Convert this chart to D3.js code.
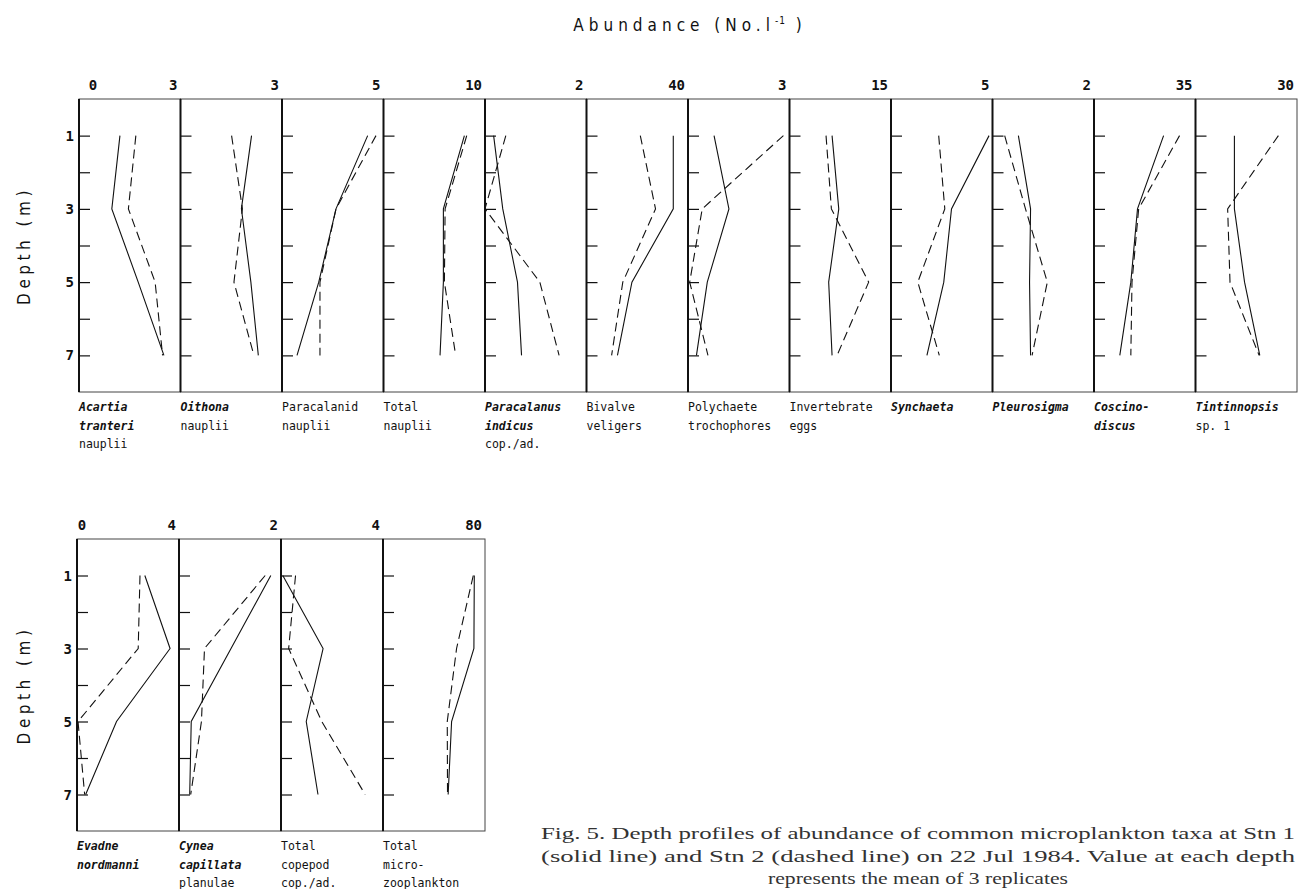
<!DOCTYPE html>
<html>
<head>
<meta charset="utf-8">
<script src="https://cdn.jsdelivr.net/npm/d3@7"></script>
<style>
  body { margin: 0; background: #fff; }
  svg { display: block; }
  .tick-num { font-family: "DejaVu Sans Mono", monospace; font-weight: bold; font-size: 14px; fill: #111; }
  .taxon { font-family: "DejaVu Sans Mono", monospace; font-size: 11.5px; fill: #111; }
  .title { font-family: "DejaVu Sans Condensed", "Liberation Sans Narrow", "DejaVu Sans", sans-serif; font-size: 17px; letter-spacing: 5px; fill: #111; }
  .ylab { font-family: "DejaVu Sans Condensed", "Liberation Sans Narrow", "DejaVu Sans", sans-serif; font-size: 17px; letter-spacing: 4.5px; fill: #111; }
  .caption { font-family: "Liberation Serif", "DejaVu Serif", serif; font-size: 17.5px; fill: #333; }
</style>
</head>
<body>
<div id="chart"></div>
<script>
// depths sampled (m)
var depths = [1, 3, 5, 7];
var depthTicks = [1, 2, 3, 4, 5, 6, 7];
var depthLabels = [1, 3, 5, 7];

// top row
var topTaxa = [
	["Acartia", "tranteri", "nauplii"],
	["Oithona", "nauplii"],
	["Paracalanid", "nauplii"],
	["Total", "nauplii"],
	["Paracalanus", "indicus", "cop./ad."],
	["Bivalve", "veligers"],
	["Polychaete", "trochophores"],
	["Invertebrate", "eggs"],
	["Synchaeta"],
	["Pleurosigma"],
	["Coscino-", "discus"],
	["Tintinnopsis", "sp. 1"]
];
var topItalic = [2, 1, 0, 0, 2, 0, 0, 0, 1, 1, 2, 1];
var topMax = [3, 3, 5, 10, 2, 40, 3, 15, 5, 2, 35, 30];
var topStn1 = [
	[1.21, 0.97, 1.75, 2.51],
	[2.10, 1.80, 2.08, 2.30],
	[4.22, 2.66, 1.81, 0.74],
	[7.97, 5.90, 5.90, 5.57],
	[0.17, 0.35, 0.64, 0.72],
	[34.2, 34.2, 17.9, 12.2],
	[0.77, 1.21, 0.57, 0.25],
	[6.29, 7.28, 5.79, 6.29],
	[4.83, 2.98, 2.60, 1.77],
	[0.51, 0.75, 0.73, 0.75],
	[24.0, 15.0, 12.7, 8.9],
	[11.5, 11.5, 14.5, 19.0]
];
var topStn2 = [
	[1.68, 1.46, 2.25, 2.47],
	[1.51, 1.83, 1.58, 2.17],
	[4.63, 2.66, 1.87, 1.87],
	[8.20, 6.07, 6.00, 7.11],
	[0.41, 0.00, 1.08, 1.46],
	[21.2, 27.2, 14.3, 9.9],
	[2.82, 0.42, 0.05, 0.59],
	[5.40, 6.19, 11.7, 7.03],
	[2.35, 2.65, 1.32, 2.38],
	[0.24, 0.65, 1.08, 0.78],
	[29.5, 15.4, 13.1, 12.7],
	[24.5, 9.5, 10.2, 18.8]
];

// bottom row
var botTaxa = [
	["Evadne", "nordmanni"],
	["Cynea", "capillata", "planulae"],
	["Total", "copepod", "cop./ad."],
	["Total", "micro-", "zooplankton"]
];
var botItalic = [2, 2, 0, 0];
var botMax = [4, 2, 4, 80];
var botStn1 = [
	[2.66, 3.65, 1.55, 0.34],
	[1.80, 1.02, 0.24, 0.21],
	[0.07, 1.65, 0.99, 1.45],
	[71.6, 71.3, 53.8, 51.1]
];
var botStn2 = [
	[2.47, 2.40, 0.04, 0.30],
	[1.69, 0.50, 0.44, 0.23],
	[0.57, 0.30, 1.60, 3.30],
	[70.8, 57.7, 50.4, 50.6]
];

var captionLines = [
	"Fig. 5. Depth profiles of abundance of common microplankton taxa at Stn 1",
	"(solid line) and Stn 2 (dashed line) on 22 Jul 1984. Value at each depth",
	"represents the mean of 3 replicates"
];

var W = 1298, H = 889;
var svg = d3.select('#chart').append('svg').attr('width', W).attr('height', H);

function drawRow(opt) {
	var y = d3.scaleLinear().domain([0, 8]).range([opt.top, opt.bottom]);
	var line = function(xs) {
		return d3.line().x(function(d) { return xs(d[1]); }).y(function(d) { return y(d[0]); });
	};

	// zero at the left end of the scale row
	svg.append('text').attr('class', 'tick-num')
		.attr('x', opt.left + opt.zeroDx).attr('y', opt.top - 9)
		.attr('text-anchor', 'middle').text('0');

	opt.max.forEach(function(m, i) {
		var x0 = opt.left + i * opt.pw;
		var xs = d3.scaleLinear().domain([0, m]).range([x0, x0 + opt.pw]);
		var g = svg.append('g');

		g.append('rect').attr('x', x0).attr('y', opt.top).attr('width', opt.pw).attr('height', opt.bottom - opt.top)
			.attr('fill', 'none').attr('stroke', '#444').attr('stroke-width', 1);
		g.append('line').attr('x1', x0).attr('x2', x0).attr('y1', opt.top).attr('y2', opt.bottom)
			.attr('stroke', '#111').attr('stroke-width', 2);

		var ax = d3.axisRight(y).tickValues(depthTicks).tickSize(11).tickFormat('');
		g.append('g').attr('transform', 'translate(' + x0 + ',0)').call(ax)
			.call(function(s) { s.select('.domain').remove(); s.selectAll('line').attr('stroke', '#111').attr('stroke-width', 1.2); });

		g.append('text').attr('class', 'tick-num')
			.attr('x', x0 + opt.pw - 3).attr('y', opt.top - 9)
			.attr('text-anchor', 'end').text(m);

		g.append('path').datum(d3.zip(depths, opt.s1[i]))
			.attr('d', line(xs)).attr('fill', 'none').attr('stroke', '#111').attr('stroke-width', 1.1);
		g.append('path').datum(d3.zip(depths, opt.s2[i]))
			.attr('d', line(xs)).attr('fill', 'none').attr('stroke', '#111').attr('stroke-width', 1.1)
			.attr('stroke-dasharray', '9,5');

		var t = g.append('text').attr('class', 'taxon');
		opt.taxa[i].forEach(function(s, j) {
			t.append('tspan').attr('x', x0).attr('y', opt.bottom + 19 + j * 18.5)
				.attr('font-style', j < opt.italic[i] ? 'italic' : 'normal')
				.attr('font-weight', j < opt.italic[i] ? 'bold' : 'normal')
				.text(s);
		});
	});

	// depth numbers
	svg.append('g').selectAll('text').data(depthLabels).enter().append('text')
		.attr('class', 'tick-num').attr('font-weight', 'normal')
		.attr('x', opt.left - 5).attr('y', function(d) { return y(d) + 5; })
		.attr('text-anchor', 'end').text(function(d) { return d; });

	svg.append('text').attr('class', 'ylab')
		.attr('transform', 'translate(30,' + ((opt.top + opt.bottom) / 2) + ') rotate(-90)')
		.attr('text-anchor', 'middle').text('Depth (m)');
}

drawRow({left: 79, pw: 101.5, top: 99, bottom: 392, zeroDx: 14, max: topMax, s1: topStn1, s2: topStn2, taxa: topTaxa, italic: topItalic});
drawRow({left: 77, pw: 102, top: 539, bottom: 831, zeroDx: 5, max: botMax, s1: botStn1, s2: botStn2, taxa: botTaxa, italic: botItalic});

// title
var title = svg.append('text').attr('class', 'title').attr('x', 690).attr('y', 31).attr('text-anchor', 'middle');
title.append('tspan').text('Abundance (No.l');
title.append('tspan').attr('font-size', '10px').attr('letter-spacing', '1px').attr('dy', -7).text('-1');
title.append('tspan').attr('dy', 7).text(' )');

// caption: two justified lines, last line centred
var capW = 754, lastW = 300;
captionLines.forEach(function(s, k) {
	var t = svg.append('text').attr('class', 'caption').attr('y', 839 + k * 22.5).text(s)
		.attr('lengthAdjust', 'spacingAndGlyphs');
	if (k < 2) t.attr('x', 541).attr('textLength', capW);
	else t.attr('x', 918 - lastW / 2).attr('textLength', lastW);
});
</script>
</body>
</html>
